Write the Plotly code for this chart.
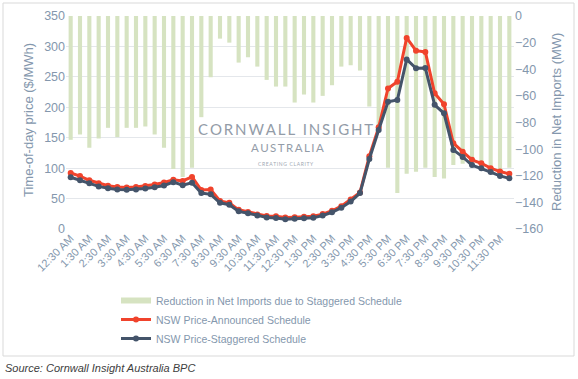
import plotly.graph_objects as go

times = [
    "12:30 AM", "1:00 AM", "1:30 AM", "2:00 AM", "2:30 AM", "3:00 AM", "3:30 AM", "4:00 AM",
    "4:30 AM", "5:00 AM", "5:30 AM", "6:00 AM", "6:30 AM", "7:00 AM", "7:30 AM", "8:00 AM",
    "8:30 AM", "9:00 AM", "9:30 AM", "10:00 AM", "10:30 AM", "11:00 AM", "11:30 AM", "12:00 PM",
    "12:30 PM", "1:00 PM", "1:30 PM", "2:00 PM", "2:30 PM", "3:00 PM", "3:30 PM", "4:00 PM",
    "4:30 PM", "5:00 PM", "5:30 PM", "6:00 PM", "6:30 PM", "7:00 PM", "7:30 PM", "8:00 PM",
    "8:30 PM", "9:00 PM", "9:30 PM", "10:00 PM", "10:30 PM", "11:00 PM", "11:30 PM", "12:00 AM",
]

reduction_mw = [
    -93, -89, -99, -92, -84, -91, -84, -84, -83, -89, -99, -115,
    -121, -114, -76, -46, -17, -20, -35, -31, -38, -48, -53, -53,
    -65, -59, -65, -60, -52, -38, -37, -41, -68, -85, -114, -133,
    -118.5, -117, -114, -121, -122, -112, -111, -110, -113, -115, -115, -114,
]

price_announced = [
    92, 87, 80, 75, 71, 69, 68, 69, 70.5, 73, 76.5, 81,
    79, 85.5, 64, 65, 46, 43, 31.5, 28, 24, 21.5, 21, 19,
    19.5, 20, 21, 24.5, 30, 37.5, 48.5, 60, 119.5, 167, 231, 242,
    314, 293, 291, 223, 205, 141, 127, 113.6, 108, 100, 94.4, 90.6,
]

price_staggered = [
    85, 80, 75, 70, 67, 65, 64.5, 65, 66.5, 68.5, 71.5, 77,
    72, 76, 59, 57, 43, 40, 29, 26, 22, 19, 18, 16,
    17, 17.5, 18.5, 22, 27.5, 35, 45, 59, 115, 162.7, 209, 212,
    278.6, 264, 264.5, 204, 190, 130, 118.5, 105, 99.7, 93.5, 87.2, 83.2,
]

tick_labels = times[::2]

AXIS_COL = "#8497ad"
BAR_COL = "#d6e3c1"
FONT = "Liberation Sans, Arial, sans-serif"

fig = go.Figure()
fig.add_trace(go.Bar(
    x=times, y=reduction_mw, yaxis="y",
    name="Reduction in Net Imports due to Staggered Schedule",
    marker=dict(color=BAR_COL, line=dict(width=0)), showlegend=False,
))
# legend entry for the bars, drawn as a wide flat swatch
fig.add_trace(go.Scatter(
    x=[None], y=[None], yaxis="y", mode="lines",
    name="Reduction in Net Imports due to Staggered Schedule",
    line=dict(color=BAR_COL, width=6),
))
fig.add_trace(go.Scatter(
    x=times, y=price_announced, yaxis="y2", mode="lines+markers",
    name="NSW Price-Announced Schedule",
    line=dict(color="#f0432c", width=3), marker=dict(size=6, color="#f0432c"),
))
fig.add_trace(go.Scatter(
    x=times, y=price_staggered, yaxis="y2", mode="lines+markers",
    name="NSW Price-Staggered Schedule",
    line=dict(color="#44546a", width=3), marker=dict(size=6, color="#44546a"),
))

W, H = 578, 379
L, R, T, B = 66, 64, 16, 150
pw, ph = W - L - R, H - T - B

def px(x):
    return (x - L) / pw

def py(y):
    return (H - B - y) / ph

fig.update_layout(
    width=W, height=H,
    margin=dict(l=L, r=R, t=T, b=B, autoexpand=False),
    paper_bgcolor="white", plot_bgcolor="white",
    font=dict(family=FONT, color=AXIS_COL),
    bargap=0.56,
    showlegend=True,
    xaxis=dict(
        type="category", range=[-0.5, len(times) - 0.5],
        tickmode="array", tickvals=tick_labels, ticktext=tick_labels,
        tickangle=-45, tickfont=dict(size=11, color=AXIS_COL), showgrid=False,
        showline=False, ticks="", zeroline=False, automargin=False,
    ),
    yaxis=dict(
        side="right", range=[-160, 0], dtick=20, showgrid=False, zeroline=False,
        tickfont=dict(size=12.5, color=AXIS_COL), ticks="", automargin=False,
    ),
    yaxis2=dict(
        side="left", overlaying="y", range=[0, 350], dtick=50, showgrid=True,
        gridcolor="#e4e7eb", gridwidth=1, zeroline=False,
        tickfont=dict(size=12.5, color=AXIS_COL), ticks="", automargin=False,
    ),
    legend=dict(
        x=px(116), y=py(286), xanchor="left", yanchor="top",
        font=dict(size=10.5, color=AXIS_COL), bgcolor="rgba(0,0,0,0)",
        tracegroupgap=0, itemwidth=30,
    ),
)

def note(text, x, y, size, color, family=None, angle=0):
    f = dict(size=size, color=color)
    if family:
        f["family"] = family
    fig.add_annotation(text=text, xref="paper", yref="paper", x=px(x), y=py(y),
                       xanchor="center", yanchor="middle", showarrow=False,
                       textangle=angle, font=f)

sp = "\u2009"
WM = "Lato, Open Sans, sans-serif"
note(sp.join("CORNWALL") + sp + " " + sp + sp.join("INSIGHT"), 285, 129, 15, "#939ca8", WM)
note(sp.join("AUSTRALIA"), 287, 147.5, 11.5, "#939ca8", WM)
note(sp.join("CREATING") + "  " + sp.join("CLARITY"), 286, 164, 5, "#a0a8b2", WM)

note("Time-of-day price ($/MWh)", 28, 120, 13, AXIS_COL, angle=-90)
note("Reduction in Net Imports (MW)", 557, 122, 13, AXIS_COL, angle=-90)

fig.add_annotation(text="<i>Source: Cornwall Insight Australia BPC</i>",
                   xref="paper", yref="paper", x=px(3), y=py(368),
                   xanchor="left", yanchor="middle",
                   showarrow=False, font=dict(size=11, color="#404040"))

fig.add_shape(type="rect", xref="paper", yref="paper",
              x0=px(3), x1=px(574), y0=py(356), y1=py(3),
              line=dict(color="#d9d9d9", width=1), layer="below")

fig.write_html("out.html", config={"displayModeBar": False},
               post_script="document.body.style.margin='0';")
